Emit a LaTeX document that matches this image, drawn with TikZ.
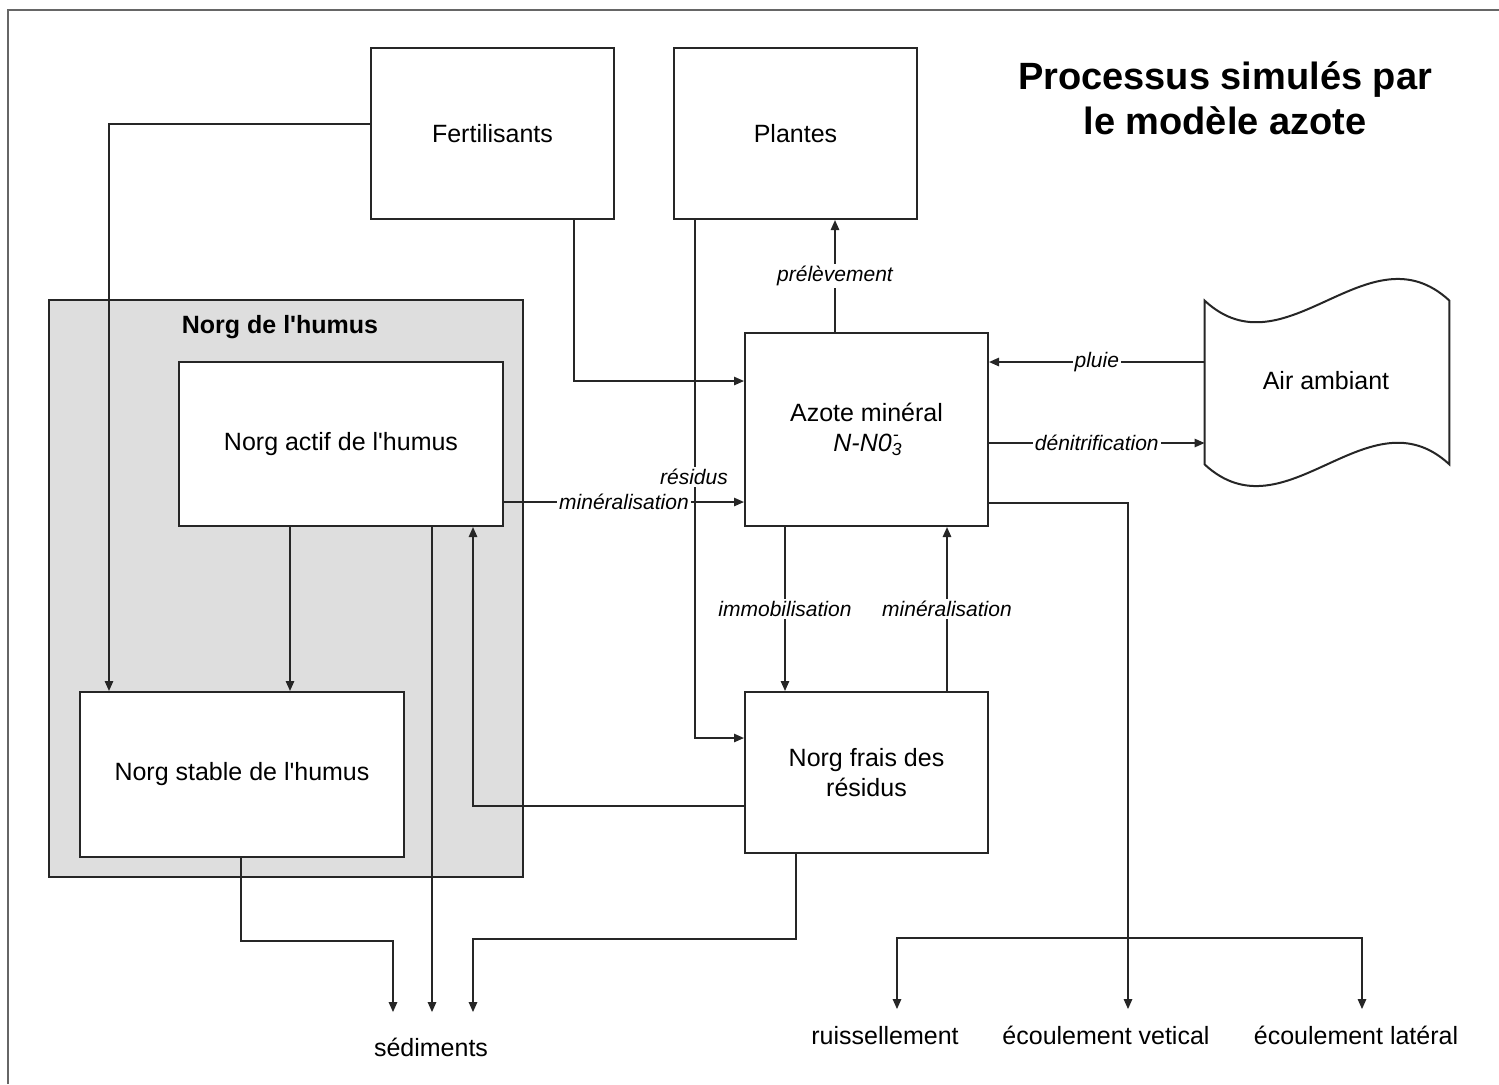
\documentclass[tikz,border=0pt]{standalone}
\usepackage{fontspec}
\setmainfont{Liberation Sans}
\usetikzlibrary{arrows.meta,calc}
\begin{document}
\begin{tikzpicture}[x=0.5pt,y=-0.5pt,
  box/.style={draw=black!85, line width=1pt, fill=white, inner sep=0pt, align=center,
    font=\fontsize{12.5}{15}\selectfont},
  conn/.style={draw=black!85, line width=0.8pt},
  arr/.style={conn, -{Triangle[length=5pt,width=4.2pt]}},
  lab/.style={fill=white, inner sep=1pt, font=\itshape\fontsize{10.5}{12}\selectfont},
  outl/.style={inner xsep=0pt, text height=9.5pt, text depth=0pt, font=\fontsize{12.5}{15}\selectfont}]
\useasboundingbox (0,0) rectangle (1499,1084);
% outer frame
\draw[black!60, line width=1.2pt] (8,1084) -- (8,10) -- (1499,10);
% title
\node[align=center, font=\bfseries\fontsize{19}{22.5}\selectfont] (title) at (1225,98)
  {Processus simulés par\\le modèle azote};
% humus group
\node[draw=black!85, line width=1pt, fill=black!13, minimum width=237pt, minimum height=288.5pt, inner sep=0pt] (humus) at (286,588.5) {};
\node[font=\bfseries\fontsize{12.5}{15}\selectfont] (humuslab) at (280,327) {Norg de l\textquotesingle humus};
% boxes
\node[box, minimum width=121.5pt, minimum height=85.5pt] (fert) at (492.5,133.5) {Fertilisants};
\node[box, minimum width=121.5pt, minimum height=85.5pt] (plantes) at (795.5,133.5) {Plantes};
\node[box, minimum width=162pt, minimum height=82pt] (actif) at (341,444) {Norg actif de l\textquotesingle humus};
\node[box, minimum width=162pt, minimum height=82.5pt] (stable) at (242,774.5) {Norg stable de l\textquotesingle humus};
\node[box, minimum width=121.5pt, minimum height=96.5pt] (azote) at (866.5,429.5)
  {Azote minéral\\\textit{N-N0}\rlap{\textsubscript{\textit{3}}}\raisebox{1pt}{\textsuperscript{\kern0.5pt\textit{-}}}};
\node[box, minimum width=121.5pt, minimum height=80.5pt] (frais) at (866.5,772.5) {Norg frais des\\résidus};
% air ambiant
\node[inner sep=0pt, minimum width=122pt, minimum height=81.5pt] (air) at (1327,382.5) {};
\draw[draw=black!85, line width=1pt, fill=white]
  (air.north west) .. controls +(81,75) and +(-81,-75) .. (air.north east)
  -- (air.south east) .. controls +(-81,-75) and +(81,75) .. (air.south west) -- cycle;
\node[font=\fontsize{12.5}{15}\selectfont] (airtxt) at (1326,381) {Air ambiant};
% outflow labels
\node[outl, inner ysep=12.5pt] (sed) at (431,1047) {sédiments};
\node[outl, inner ysep=8pt] (ruis) at (885,1035) {ruissellement};
\node[outl, inner ysep=8pt] (vert) at (1106,1035) {écoulement vetical};
\node[outl, inner ysep=8pt] (lat) at (1356,1035) {écoulement latéral};
% connectors
\draw[arr] (fert.west |- 0,124) -| (stable.north -| 109,0);
\draw[arr] (fert.south -| 574,0) |- (azote.west |- 0,381);
\draw[arr] (plantes.south -| 695,0) |- (frais.west |- 0,738);
\node[lab] (lres) at (694,477) {résidus};
\draw[arr] (azote.north -| 835,0) -- (plantes.south -| 835,0) node[lab, midway] {prélèvement};
\draw[arr] (actif.east |- 0,502) -- (azote.west |- 0,502) node[lab, midway] {minéralisation};
\draw[arr] (azote.south -| 785,0) -- (frais.north -| 785,0) node[lab, midway] {immobilisation};
\draw[arr] (frais.north -| 947,0) -- (azote.south -| 947,0) node[lab, midway] {minéralisation};
\draw[arr] (air.west |- 0,362) -- (azote.east |- 0,362) node[lab, midway] {pluie};
\draw[arr] (azote.east |- 0,443) -- (air.west |- 0,443) node[lab, midway] {dénitrification};
\draw[arr] (actif.south -| 290,0) -- (stable.north -| 290,0);
\draw[arr] (frais.west |- 0,806) -| (actif.south -| 473,0);
\draw[arr] (actif.south -| 432,0) -- (sed.north -| 432,0);
\draw[arr] (stable.south -| 241,0) -- ++(0,83) -| (sed.north -| 393,0);
\draw[arr] (frais.south -| 796,0) -- ++(0,85) -| (sed.north -| 473,0);
\draw[arr] (azote.east |- 0,503) -| (vert.north -| 1128,0);
\coordinate (split) at (1128,938);
\draw[conn, {Triangle[length=5pt,width=4.2pt]}-{Triangle[length=5pt,width=4.2pt]}]
  (ruis.north -| 897,0) |- (split) -| (lat.north -| 1362,0);
\end{tikzpicture}
\end{document}
